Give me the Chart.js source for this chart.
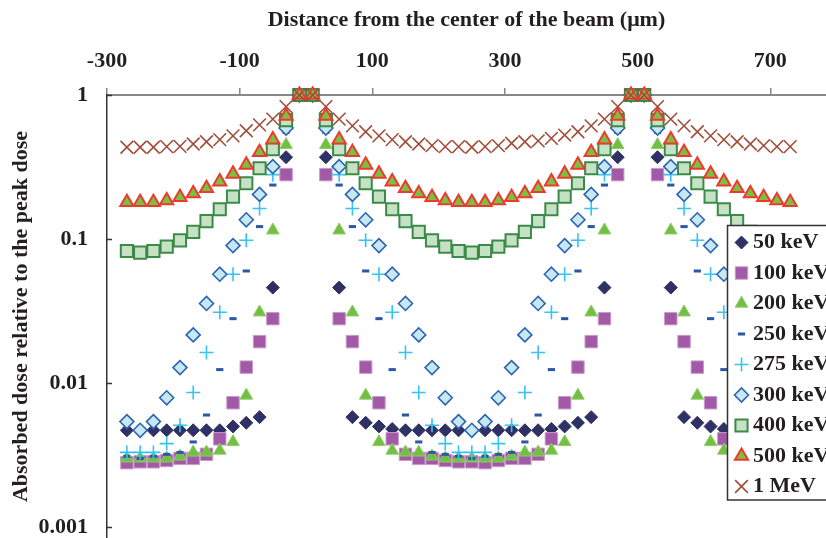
<!DOCTYPE html>
<html><head><meta charset="utf-8">
<script src="https://cdn.jsdelivr.net/npm/chart.js@4/dist/chart.umd.min.js"></script>
<style>html,body{margin:0;padding:0;background:#fff}canvas{display:block}</style>
</head><body>
<canvas id="c" width="826" height="538"></canvas>
<script>
// Distance from the center of the beam (µm)
const distances = [-270,-250,-230,-210,-190,-170,-150,-130,-110,-90,-70,-50,-30,-10,10,30,50,70,90,110,130,150,170,190,210,230,250,270,290,310,330,350,370,390,410,430,450,470,490,510,530,550,570,590,610,630,650,670,690,710,730];

const seriesLabels = ['50 keV','100 keV','200 keV','250 keV','275 keV','300 keV','400 keV','500 keV','1 MeV'];

const dose50keV = [0.0047,0.0047,0.0047,0.0047,0.0047,0.0047,0.0047,0.0047,0.005,0.0053,0.0058,0.046,0.37, 1,1, 0.37,0.046,0.0058,0.0053,0.005,0.0048,0.0047,0.0047,0.0047,0.0047,0.0047,0.0047, 0.0047,0.0047,0.0047,0.0047,0.0047,0.0048,0.005,0.0053,0.0058,0.046,0.37, 1,1, 0.37,0.046,0.0058,0.0053,0.005,0.0048,0.0047,0.0047,0.0047,0.0047,0.0047];
const dose100keV = [0.0028,0.00284,0.00284,0.0029,0.003,0.003,0.0032,0.0041,0.0073,0.0129,0.0194,0.028,0.28, 1,1, 0.28,0.028,0.0194,0.0129,0.0073,0.0041,0.0032,0.003,0.003,0.0029,0.00284,0.00284, 0.0028,0.0029,0.003,0.003,0.0032,0.0041,0.0073,0.0129,0.0194,0.028,0.28, 1,1, 0.28,0.028,0.0194,0.0129,0.0073,0.0041,0.0032,0.003,0.003,0.0029,0.00284];
const dose200keV = [0.003,0.003,0.003,0.003,0.0031,0.0033,0.0033,0.0034,0.0039,0.0082,0.031,0.115,0.45, 1,1, 0.45,0.115,0.031,0.0082,0.0039,0.0034,0.0033,0.0033,0.0031,0.003,0.003,0.003, 0.003,0.003,0.0031,0.0033,0.0033,0.0034,0.0039,0.0082,0.031,0.115,0.45, 1,1, 0.45,0.115,0.031,0.0082,0.0039,0.0034,0.0033,0.0033,0.0031,0.003,0.003];
const dose250keV = [0.0031,0.003,0.0031,0.0032,0.0033,0.0039,0.006,0.0124,0.028,0.06,0.122,0.237,0.55, 1,1, 0.55,0.237,0.122,0.06,0.028,0.0124,0.006,0.0039,0.0033,0.0032,0.0031,0.003, 0.0031,0.0032,0.0033,0.0039,0.006,0.0124,0.028,0.06,0.122,0.237,0.55, 1,1, 0.55,0.237,0.122,0.06,0.028,0.0124,0.006,0.0039,0.0033,0.0032,0.0031];
const dose275keV = [0.0033,0.0033,0.0033,0.0038,0.0051,0.0086,0.0163,0.031,0.057,0.098,0.163,0.28,0.6, 1,1, 0.6,0.28,0.163,0.098,0.057,0.031,0.0163,0.0086,0.0051,0.0038,0.0033,0.0033, 0.0033,0.0038,0.0051,0.0086,0.0163,0.031,0.057,0.098,0.163,0.28,0.6, 1,1, 0.6,0.28,0.163,0.098,0.057,0.031,0.0163,0.0086,0.0051,0.0038,0.0033];
const dose300keV = [0.0054,0.0047,0.0054,0.0079,0.0128,0.0216,0.0357,0.057,0.09,0.136,0.204,0.318,0.59, 1,1, 0.59,0.318,0.204,0.136,0.09,0.057,0.0357,0.0216,0.0128,0.0079,0.0054,0.0047, 0.0054,0.0079,0.0128,0.0216,0.0357,0.057,0.09,0.136,0.204,0.318,0.59, 1,1, 0.59,0.318,0.204,0.136,0.09,0.057,0.0357,0.0216,0.0128,0.0079,0.0054];
const dose400keV = [0.0826,0.0804,0.0826,0.0885,0.098,0.112,0.133,0.161,0.197,0.244,0.31,0.42,0.67, 1,1, 0.67,0.42,0.31,0.244,0.197,0.161,0.133,0.112,0.098,0.0885,0.0826,0.0804, 0.0826,0.0885,0.098,0.112,0.133,0.161,0.197,0.244,0.31,0.42,0.67, 1,1, 0.67,0.42,0.31,0.244,0.197,0.161,0.133,0.112,0.098,0.0885,0.0826];
const dose500keV = [0.18,0.18,0.18,0.185,0.195,0.207,0.225,0.25,0.283,0.327,0.40,0.49,0.715, 1,1, 0.715,0.49,0.40,0.327,0.283,0.25,0.225,0.207,0.195,0.185,0.18,0.18, 0.18,0.185,0.195,0.207,0.225,0.25,0.283,0.327,0.40,0.49,0.715, 1,1, 0.715,0.49,0.40,0.327,0.283,0.25,0.225,0.207,0.195,0.185,0.18];
const dose1MeV = [0.434,0.434,0.434,0.438,0.44,0.457,0.474,0.49,0.52,0.565,0.62,0.68,0.83, 1,1, 0.83,0.68,0.61,0.556,0.52,0.49,0.474,0.457,0.445,0.438,0.438,0.434, 0.438,0.445,0.462,0.474,0.48,0.5,0.527,0.556,0.61,0.68,0.83, 1,1, 0.83,0.68,0.61,0.556,0.52,0.49,0.474,0.457,0.445,0.438,0.438];

const xTickValues = [-300,-100,100,300,500,700];
const yTickValues = [0.001,0.01,0.1,1];
const yTickLabels = ['0.001','0.01','0.1','1'];

const xTitle = 'Distance from the center of the beam (\u03bcm)';
const yTitle = 'Absorbed dose relative to the peak dose';

const seriesValues = [dose50keV,dose100keV,dose200keV,dose250keV,dose275keV,dose300keV,dose400keV,dose500keV,dose1MeV];

const seriesStyles = [
  {pointStyle:'rectRot', radius:6.5, bg:'#2E3163', border:'#2E3163', bw:1},
  {pointStyle:'rect', radius:8.8, bg:'#A25AA6', border:'#C99BCB', bw:1},
  {pointStyle:'triangle', radius:7.3, bg:'#72BF44', border:'#8ECC66', bw:1},
  {pointStyle:'line', radius:3.6, bg:'#2A58A5', border:'#2A58A5', bw:3},
  {pointStyle:'cross', radius:7, bg:'#35C3F0', border:'#35C3F0', bw:1.6},
  {pointStyle:'rectRot', radius:7, bg:'#C8E8EF', border:'#2C64B4', bw:1.6},
  {pointStyle:'rect', radius:8.6, bg:'#C6E2C4', border:'#3C8A48', bw:2},
  {pointStyle:'triangle', radius:7.6, bg:'#7BC043', border:'#EE3A2E', bw:2},
  {pointStyle:'crossRot', radius:9, bg:'#A04E3A', border:'#A04E3A', bw:1.6}
];

const FONT_FAMILY = '"Liberation Serif", "Times New Roman", serif';
const n = seriesLabels.length;

const datasets = seriesLabels.map((label, i) => ({
  label,
  data: distances.map((x, j) => ({x, y: seriesValues[i][j]})),
  showLine: false,
  pointStyle: seriesStyles[i].pointStyle,
  pointRadius: seriesStyles[i].radius,
  pointHoverRadius: seriesStyles[i].radius,
  pointBackgroundColor: seriesStyles[i].bg,
  pointBorderColor: seriesStyles[i].border,
  pointBorderWidth: seriesStyles[i].bw,
  backgroundColor: seriesStyles[i].bg,
  borderColor: seriesStyles[i].border,
  order: n - 1 - i,
  clip: false
}));

function drawMarker(ctx, st, x, y) {
  ctx.save();
  ctx.fillStyle = st.bg; ctx.strokeStyle = st.border; ctx.lineWidth = st.bw;
  if (Chart.helpers && Chart.helpers.drawPoint) {
    Chart.helpers.drawPoint(ctx, {pointStyle: st.pointStyle, radius: st.radius, borderWidth: st.bw, rotation: 0}, x, y);
  }
  ctx.restore();
}

const overlay = {
  id: 'overlay',
  beforeDatasetsDraw(chart) {
    const ctx = chart.ctx, ys = chart.scales.y, area = chart.chartArea;
    ctx.save();
    ctx.strokeStyle = '#333'; ctx.lineWidth = 1.5;
    yTickValues.forEach(v => {
      const py = Math.round(ys.getPixelForValue(v)) + 0.5;
      ctx.beginPath(); ctx.moveTo(area.left, py); ctx.lineTo(area.left + 5, py); ctx.stroke();
    });
    ctx.restore();
  },
  afterDraw(chart) {
    const ctx = chart.ctx;
    const bx = 727.5, by = 225.5, bw = 140, bh = 274.5;
    ctx.save();
    ctx.fillStyle = '#ffffff';
    ctx.fillRect(bx, by, bw, bh);
    ctx.strokeStyle = '#333'; ctx.lineWidth = 1.5;
    ctx.strokeRect(bx, by, bw, bh);
    ctx.font = 'bold 22px ' + FONT_FAMILY;
    ctx.textBaseline = 'middle'; ctx.textAlign = 'left';
    chart.data.datasets.forEach((ds, i) => {
      const yy = 242.5 + i * 30.5;
      drawMarker(ctx, seriesStyles[i], 741.5, yy);
      ctx.fillStyle = '#231F20';
      ctx.fillText(ds.label, 753, yy);
    });
    ctx.restore();
  }
};

new Chart(document.getElementById('c'), {
  type: 'scatter',
  data: { datasets },
  options: {
    responsive: false,
    animation: false,
    devicePixelRatio: 1,
    layout: { padding: 0, autoPadding: false },
    plugins: { legend: { display: false }, tooltip: { enabled: false } },
    scales: {
      x: {
        type: 'linear', position: 'top', min: -300, max: 784,
        afterBuildTicks: s => { s.ticks = xTickValues.map(v => ({value: v})); },
        afterFit: s => { s.height = 95; s.paddingLeft = 0; s.paddingRight = 0; },
        ticks: { color: '#231F20', font: { family: FONT_FAMILY, size: 22, weight: 'bold' }, padding: 13, maxRotation: 0, autoSkip: false, callback: v => String(v) },
        grid: { drawOnChartArea: false, drawTicks: true, tickLength: 7, color: '#888888', lineWidth: 1.5 },
        border: { display: true, color: '#888888', width: 2 },
        title: { display: true, text: xTitle, color: '#231F20', font: { family: FONT_FAMILY, size: 22, weight: 'bold' }, padding: { top: 7, bottom: 0 } }
      },
      y: {
        type: 'logarithmic', position: 'left', min: 0.00084, max: 1,
        afterBuildTicks: s => { s.ticks = yTickValues.map(v => ({value: v})); },
        afterFit: s => { s.width = 107; s.paddingTop = 0; s.paddingBottom = 0; },
        ticks: { color: '#231F20', font: { family: FONT_FAMILY, size: 22, weight: 'bold' }, padding: 19, autoSkip: false,
          callback: v => { const k = yTickValues.findIndex(t => Math.abs(t - v) / t < 1e-6); return k >= 0 ? yTickLabels[k] : ''; } },
        grid: { drawOnChartArea: false, drawTicks: false },
        border: { display: true, color: '#333333', width: 1.5 },
        title: { display: true, text: yTitle, color: '#231F20', font: { family: FONT_FAMILY, size: 22, weight: 'bold' }, padding: { top: 8, bottom: 0 } }
      }
    }
  },
  plugins: [overlay]
});
</script>
</body></html>
